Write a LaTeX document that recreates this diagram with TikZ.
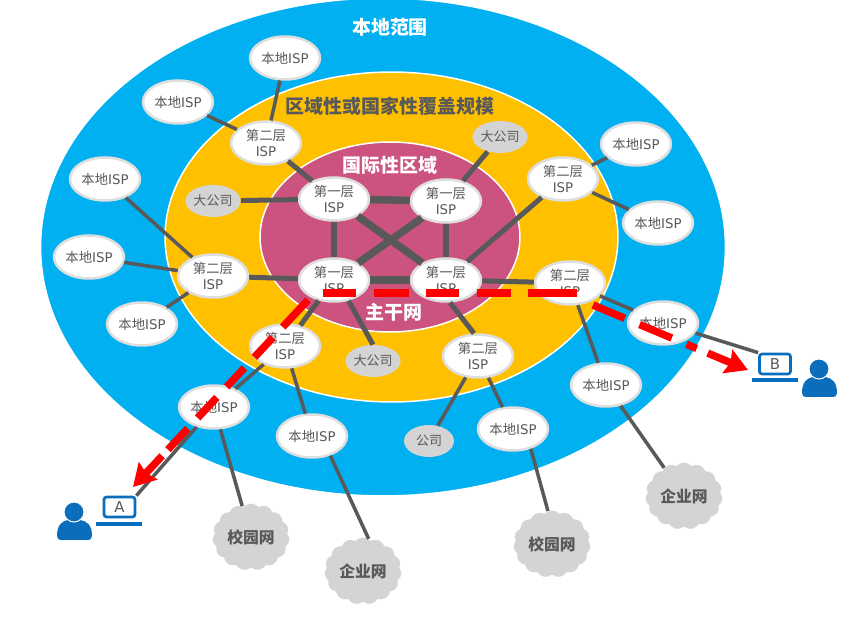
\documentclass[tikz,border=0pt]{standalone}
\usepackage{fontspec}
\setmainfont{Noto Sans CJK SC}
\newfontfamily\latinfont{DejaVu Sans}
\newcommand{\ispword}{{\latinfont ISP}}
\usetikzlibrary{arrows.meta,shapes.geometric,shapes.symbols}
\definecolor{scopeblue}{HTML}{00B0F0}
\definecolor{scopeyellow}{HTML}{FFC000}
\definecolor{scopepink}{HTML}{CC527F}
\definecolor{linkgray}{HTML}{595959}
\definecolor{puregray}{HTML}{D4D4D4}
\definecolor{userblue}{HTML}{0A6EBD}
\tikzset{
  region/.style={ellipse,draw=white,line width=0.03cm,inner sep=0pt},
  bigtext/.style={font=\fontsize{10.8}{13}\selectfont\bfseries},
  isp/.style={ellipse,draw=black!13,line width=0.05cm,fill=white,text=linkgray,inner sep=0pt,minimum width=1.4cm,minimum height=0.86cm,align=center,font=\fontsize{7.6}{9.4}\selectfont},
  firm/.style={ellipse,fill=puregray,text=linkgray,inner sep=0pt,minimum width=1.0cm,minimum height=0.64cm,font=\fontsize{7.4}{9}\selectfont},
  net/.style={cloud,cloud puffs=15,cloud puff arc=100,aspect=1.15,fill=puregray,text=linkgray,inner sep=0pt,minimum width=1.54cm,minimum height=1.34cm,font=\fontsize{9}{11}\selectfont\bfseries},
  corelink/.style={linkgray,line width=0.15cm},
  midlink/.style={linkgray,line width=0.1cm},
  edgelink/.style={linkgray,line width=0.07cm},
  route/.style={red,line width=0.15cm},
  screen/.style={draw=userblue,line width=0.055cm,fill=white,rounded corners=1.5pt,text=linkgray,inner sep=0pt,minimum width=0.62cm,minimum height=0.4cm,font=\latinfont\fontsize{8.5}{10}\selectfont},
  keyboard/.style={fill=userblue,inner sep=0pt,minimum width=0.94cm,minimum height=0.08cm},
  person/.pic={
    \fill[userblue] (-17,24) .. controls (-17,13) and (-12,9) .. (-6,8) -- (6,8) .. controls (13,9) and (18,13) .. (18,24) .. controls (18,27) and (16,28) .. (14,28) -- (-13,28) .. controls (-15,28) and (-17,27) .. (-17,24) -- cycle;
    \fill[userblue,draw=white,line width=0.02cm] (0,0) circle[radius=10];
  }
}
\begin{document}
\begin{tikzpicture}[x=0.02cm,y=-0.02cm]
  \useasboundingbox[fill=white] (0,0) rectangle (853,621);
  \node[region,fill=scopeblue,minimum width=13.7cm,minimum height=9.96cm] (local) at (383,247) {};
  \node[region,fill=scopeyellow,minimum width=9.06cm,minimum height=6.6cm] (national) at (391.5,237) {};
  \node[region,fill=scopepink,minimum width=5.2cm,minimum height=3.8cm] (global) at (390,237) {};
  \node[bigtext,text=white] (localtitle) at (390,27) {本地范围};
  \node[bigtext,text=linkgray] (nationaltitle) at (390,106) {区域性或国家性覆盖规模};
  \node[bigtext,text=white] (globaltitle) at (390,165) {国际性区域};
  \node[bigtext,text=white] (backbone) at (394,312) {主干网};

  \node[isp] (tieroneA) at (334,199) {第一层\\\ispword};
  \node[isp] (tieroneB) at (446,201) {第一层\\\ispword};
  \node[isp] (tieroneC) at (334,280) {第一层\\\ispword};
  \node[isp] (tieroneD) at (446,280) {第一层\\\ispword};
  \node[isp] (tiertwoA) at (266,143) {第二层\\\ispword};
  \node[isp] (tiertwoB) at (563,179) {第二层\\\ispword};
  \node[isp] (tiertwoC) at (213,276) {第二层\\\ispword};
  \node[isp] (tiertwoD) at (570,283) {第二层\\\ispword};
  \node[isp] (tiertwoE) at (285,346) {第二层\\\ispword};
  \node[isp] (tiertwoF) at (478,356) {第二层\\\ispword};

  \node[isp] (localA) at (285,58) {本地\ispword};
  \node[isp] (localB) at (178,102) {本地\ispword};
  \node[isp] (localC) at (105,179) {本地\ispword};
  \node[isp] (localD) at (89,257) {本地\ispword};
  \node[isp] (localE) at (142,324) {本地\ispword};
  \node[isp] (localF) at (636,144) {本地\ispword};
  \node[isp] (localG) at (658,223) {本地\ispword};
  \node[isp] (localH) at (663,323) {本地\ispword};
  \node[isp] (localI) at (606,385) {本地\ispword};
  \node[isp] (localJ) at (214,407) {本地\ispword};
  \node[isp] (localK) at (312,436) {本地\ispword};
  \node[isp] (localL) at (513,429) {本地\ispword};

  \node[firm] (firmA) at (213,201) {大公司};
  \node[firm] (firmB) at (500,137) {大公司};
  \node[firm] (firmC) at (373,361) {大公司};
  \node[firm] (firmD) at (429,441) {公司};

  \node[net] (campusA) at (251,537) {校园网};
  \node[net] (companyA) at (363,571) {企业网};
  \node[net] (campusB) at (552,544) {校园网};
  \node[net] (companyB) at (684,496) {企业网};

  \node[screen] (laptopA) at (119.5,507) {A};
  \node[keyboard] (keysA) at (119,524) {};
  \node[screen] (laptopB) at (775,364) {B};
  \node[keyboard] (keysB) at (775,380) {};
  \pic at (74,512) {person};
  \pic at (819,369) {person};

  \draw[corelink] (tieroneA) -- (tieroneB);
  \draw[corelink] (tieroneC) -- (tieroneD);
  \draw[corelink] (tieroneA) -- (tieroneD);
  \draw[corelink] (tieroneB) -- (tieroneC);
  \draw[midlink,line width=0.12cm] (tieroneA) -- (tieroneC);
  \draw[midlink,line width=0.12cm] (tieroneB) -- (tieroneD);
  \draw[midlink] (tiertwoA) -- (tieroneA);
  \draw[midlink] (firmA) -- (tieroneA);
  \draw[midlink] (firmB) -- (tieroneB);
  \draw[midlink] (tiertwoB) -- (tieroneD);
  \draw[midlink] (tiertwoC) -- (tieroneC);
  \draw[midlink] (tiertwoD) -- (tieroneD);
  \draw[midlink] (tiertwoE) -- (tieroneC);
  \draw[midlink] (tiertwoF.100) -- (tieroneD.-80);
  \draw[midlink] (firmC.north) -- (tieroneC.-55);

  \draw[edgelink] (localA) -- (tiertwoA);
  \draw[edgelink] (localB) -- (tiertwoA);
  \draw[edgelink] (localC) -- (tiertwoC);
  \draw[edgelink] (localD) -- (tiertwoC);
  \draw[edgelink] (localE) -- (tiertwoC);
  \draw[edgelink] (localF) -- (tiertwoB);
  \draw[edgelink] (localG) -- (tiertwoB);
  \draw[edgelink] (localH) -- (tiertwoD);
  \draw[edgelink] (localI) -- (tiertwoD);
  \draw[edgelink] (localJ) -- (tiertwoE);
  \draw[edgelink] (localK) -- (tiertwoE);
  \draw[edgelink] (localL) -- (tiertwoF);
  \draw[edgelink] (firmD) -- (tiertwoF);
  \draw[edgelink] (localJ) -- (campusA);
  \draw[edgelink] (localK.-47) -- (companyA.80);
  \draw[edgelink] (localL.-48) -- (campusB.97);
  \draw[edgelink] (localI) -- (companyB);
  \draw[edgelink] (localJ) -- (laptopA.north east);
  \draw[edgelink] (localH) -- (laptopB.north west);

  \coordinate (routeleft) at (308,300);
  \coordinate (routeA) at (133,487);
  \coordinate (routemid) at (323,293);
  \coordinate (routeend) at (577,293);
  \coordinate (routeright) at (593,305);
  \coordinate (routeB) at (748,370);
  \draw[route,-{Stealth[length=0.44cm,width=0.5cm,inset=0.06cm]},dash pattern=on 0.74cm off 0.29cm on 0.54cm off 0.29cm on 0.52cm off 0.29cm on 0.56cm off 0.29cm on 0.58cm off 0.17cm on 2cm] (routeleft) -- (routeA);
  \draw[route,dash pattern=on 0.66cm off 0.36cm on 0.7cm off 0.34cm on 0.66cm off 0.36cm on 0.68cm off 0.34cm on 1cm] (routemid) -- (routeend);
  \draw[route,-{Stealth[length=0.44cm,width=0.5cm,inset=0.06cm]},dash pattern=on 0.69cm off 0.32cm on 0.7cm off 0.32cm on 0.22cm off 0.24cm on 2cm] (routeright) -- (routeB);
\end{tikzpicture}
\end{document}
